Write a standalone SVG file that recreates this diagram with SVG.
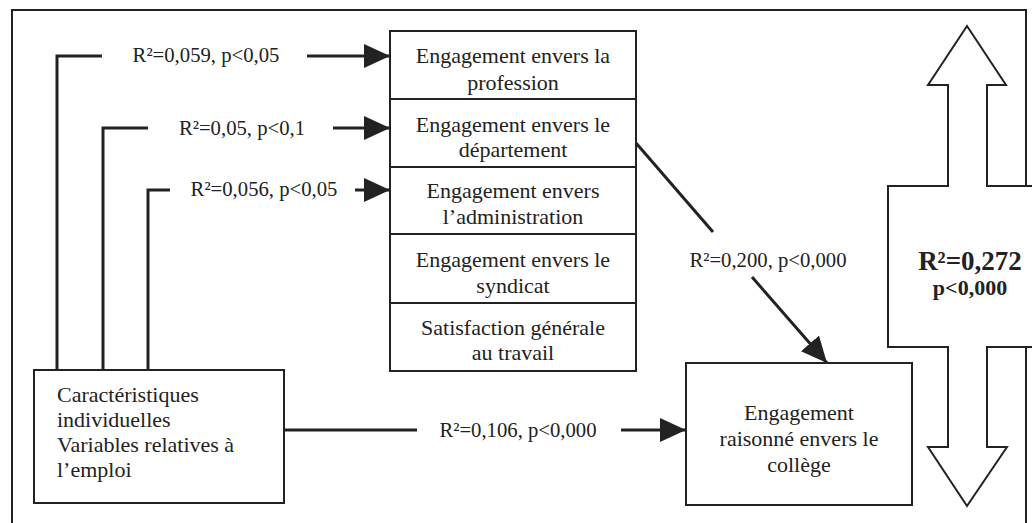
<svg xmlns="http://www.w3.org/2000/svg" width="1032" height="523" viewBox="0 0 1032 523">
  <style>
    .box { fill: #ffffff; stroke: #222222; stroke-width: 2; }
    .txt { font-family: "Liberation Serif", "Times New Roman", serif; font-size: 22px; fill: #222222; }
    .lbl { font-family: "Liberation Serif", "Times New Roman", serif; font-size: 20.7px; fill: #222222; }
    .big { font-family: "Liberation Serif", "Times New Roman", serif; font-weight: bold; fill: #222222; }
    .con { fill: none; stroke: #222222; stroke-width: 3; }
    .mid { text-anchor: middle; }
  </style>
  <defs>
    <marker id="head" viewBox="0 0 26 24" refX="26" refY="12" markerWidth="26" markerHeight="24" markerUnits="userSpaceOnUse" orient="auto">
      <path d="M0,0 L26,12 L0,24 Z" fill="#222222"/>
    </marker>
  </defs>

  <rect width="1032" height="523" fill="#ffffff"/>

  <!-- outer frame -->
  <path d="M12,523 L12,10 L1026,10 L1026,186 M1026,347 L1026,523" fill="none" stroke="#222222" stroke-width="2"/>

  <!-- overall model: double arrow -->
  <g id="model">
    <path class="box" d="M967,26 L1006,85 L987,85 L987,186 L1040,186 L1040,347 L987,347 L987,447 L1007,447 L967,506 L928,447 L948,447 L948,347 L888,347 L888,186 L948,186 L948,85 L928,85 Z"/>
    <text class="big mid" x="970" y="270" font-size="27">R²=0,272</text>
    <text class="big mid" x="970" y="295" font-size="22">p&lt;0,000</text>
  </g>

  <!-- connectors -->
  <g id="connectors">
    <polyline class="con" points="57,370 57,56 102,56"/>
    <line class="con" x1="307" y1="56" x2="390" y2="56" marker-end="url(#head)"/>
    <polyline class="con" points="103,370 103,128 148,128"/>
    <line class="con" x1="333" y1="128" x2="390" y2="128" marker-end="url(#head)"/>
    <polyline class="con" points="148,370 148,190 170,190"/>
    <line class="con" x1="355" y1="190" x2="390" y2="190" marker-end="url(#head)"/>
    <line class="con" x1="284" y1="430" x2="417" y2="430"/>
    <line class="con" x1="621" y1="430" x2="686" y2="430" marker-end="url(#head)"/>
    <line class="con" x1="636" y1="143" x2="713" y2="232"/>
    <line class="con" x1="752" y1="277" x2="827" y2="363" marker-end="url(#head)"/>

    <text class="lbl mid" x="206" y="62">R²=0,059, p&lt;0,05</text>
    <text class="lbl mid" x="242" y="135">R²=0,05, p&lt;0,1</text>
    <text class="lbl mid" x="264" y="196">R²=0,056, p&lt;0,05</text>
    <text class="lbl mid" x="518" y="437">R²=0,106, p&lt;0,000</text>
    <text class="lbl mid" x="768" y="267">R²=0,200, p&lt;0,000</text>
  </g>

  <!-- attitude stack -->
  <g id="profession">
    <rect class="box" x="390" y="31" width="246" height="68"/>
    <text class="txt mid" x="513" y="63">Engagement envers la</text>
    <text class="txt mid" x="513" y="90">profession</text>
  </g>
  <g id="departement">
    <rect class="box" x="390" y="99" width="246" height="68"/>
    <text class="txt mid" x="513" y="132">Engagement envers le</text>
    <text class="txt mid" x="513" y="157">département</text>
  </g>
  <g id="administration">
    <rect class="box" x="390" y="167" width="246" height="67"/>
    <text class="txt mid" x="513" y="198">Engagement envers</text>
    <text class="txt mid" x="513" y="224">l’administration</text>
  </g>
  <g id="syndicat">
    <rect class="box" x="390" y="234" width="246" height="69"/>
    <text class="txt mid" x="513" y="267">Engagement envers le</text>
    <text class="txt mid" x="513" y="293">syndicat</text>
  </g>
  <g id="satisfaction">
    <rect class="box" x="390" y="303" width="246" height="68"/>
    <text class="txt mid" x="513" y="335">Satisfaction générale</text>
    <text class="txt mid" x="513" y="360">au travail</text>
  </g>

  <!-- predictors -->
  <g id="caracteristiques">
    <rect class="box" x="34" y="370" width="250" height="133"/>
    <text class="txt" x="57" y="402">Caractéristiques</text>
    <text class="txt" x="57" y="427">individuelles</text>
    <text class="txt" x="57" y="452">Variables relatives à</text>
    <text class="txt" x="57" y="477">l’emploi</text>
  </g>

  <!-- outcome -->
  <g id="college">
    <rect class="box" x="686" y="363" width="226" height="142"/>
    <text class="txt mid" x="799" y="420">Engagement</text>
    <text class="txt mid" x="799" y="446">raisonné envers le</text>
    <text class="txt mid" x="799" y="472">collège</text>
  </g>
</svg>
